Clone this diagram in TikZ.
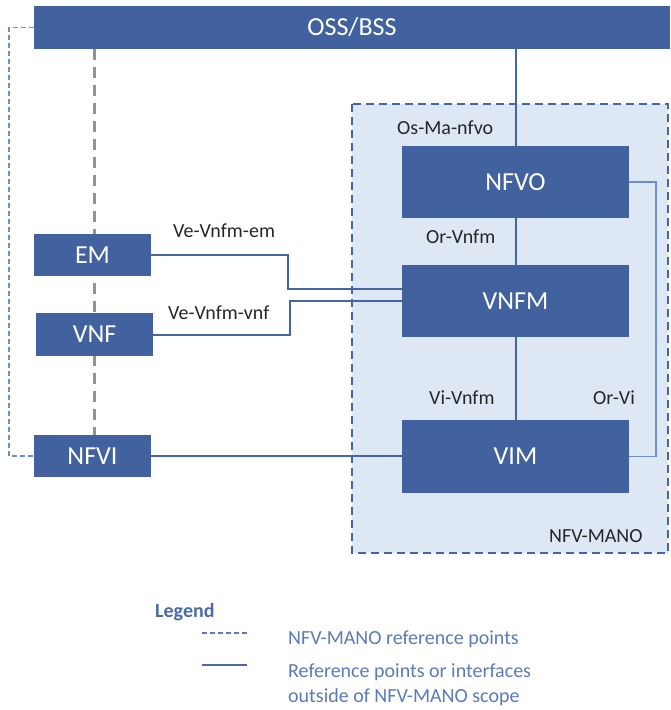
\documentclass[tikz,border=0pt]{standalone}
\usepackage{fontspec}
\setmainfont{Carlito}
\definecolor{boxblue}{HTML}{41629E}
\definecolor{lineblue}{HTML}{4466A4}
\definecolor{lightline}{HTML}{6A8FCB}
\definecolor{manofill}{HTML}{DEE8F4}
\definecolor{legendtext}{HTML}{5A7BB6}
\definecolor{legendhead}{HTML}{4A6BA8}
\definecolor{labelgray}{HTML}{262626}
\definecolor{dashgray}{HTML}{929292}
\begin{document}
\begin{tikzpicture}[x=1pt,y=-1pt,
  blockbox/.style={fill=boxblue, draw=none, text=white, inner sep=0pt,
    font=\fontsize{26}{30}\selectfont},
  iflabel/.style={anchor=west, inner sep=0pt, text=labelgray,
    font=\fontsize{20}{24}\selectfont},
  legtext/.style={anchor=west, inner sep=0pt, text=legendtext,
    font=\fontsize{20}{24}\selectfont},
  link/.style={draw=lineblue, line width=2pt},
  thinlink/.style={draw=lightline, line width=1.4pt},
  manoframe/.style={draw=lineblue, fill=manofill, line width=2pt,
    dash pattern=on 8pt off 5pt},
  greydash/.style={draw=dashgray, line width=3pt, dash pattern=on 11pt off 7pt},
  bluedash/.style={draw=lightline, line width=1.4pt, dash pattern=on 5pt off 3pt}]

\useasboundingbox (0,0) rectangle (670,710);

% NFV-MANO scope
\draw[manoframe] (352,104) rectangle (668,553);
\node[iflabel] (manolbl) at (549,536) {NFV-MANO};

% functional blocks
\node[blockbox, minimum width=636pt, minimum height=43pt] (oss) at (352,27.5) {OSS/BSS};
\node[blockbox, minimum width=227pt, minimum height=72pt] (nfvo) at (515.5,182) {NFVO};
\node[blockbox, minimum width=227pt, minimum height=72pt] (vnfm) at (515.5,301) {VNFM};
\node[blockbox, minimum width=227pt, minimum height=73pt] (vim) at (515.5,456.5) {VIM};

% grey dashed line behind EM and VNF
\coordinate (gtop) at (94,49);
\coordinate (gbot) at (94,435);
\draw[greydash] (gtop) -- (gbot);

\node[blockbox, minimum width=117pt, minimum height=42pt] (em) at (92.5,255) {EM};
\node[blockbox, minimum width=117pt, minimum height=43pt] (vnf) at (94.5,334.5) {VNF};
\node[blockbox, minimum width=117pt, minimum height=42pt] (nfvi) at (92.5,456) {NFVI};

% OSS/BSS to NFVI dashed loop
\coordinate (lt) at (9,27.5);
\coordinate (lb) at (9,456);
\draw[bluedash] (oss.west) -- (lt) -- (lb) -- (nfvi.west);

% reference points
\draw[link] (oss.south -| nfvo.north) -- (nfvo.north);
\draw[link] (nfvo) -- (vnfm);
\draw[link] (vnfm) -- (vim);
\draw[link] (nfvi.east) -- (nfvi.east -| vim.west);
\coordinate (emj) at (288,289);
\draw[link] (em.east) -| (emj) -- (emj -| vnfm.west);
\coordinate (vnfj) at (290,301);
\draw[link] (vnf.east) -| (vnfj) -- (vnfj -| vnfm.west);
\coordinate (orvi) at (656,182);
\draw[thinlink] (nfvo.east) -- (orvi) |- (vim.east);

% interface labels
\node[iflabel] (osma) at (397,128) {Os-Ma-nfvo};
\node[iflabel] (orvnfm) at (426,237) {Or-Vnfm};
\node[iflabel] (vivnfm) at (429,398) {Vi-Vnfm};
\node[iflabel] (orvilbl) at (593,398) {Or-Vi};
\node[iflabel] (veem) at (173,231) {Ve-Vnfm-em};
\node[iflabel] (vevnf) at (168,313) {Ve-Vnfm-vnf};

% legend
\node[anchor=west, inner sep=0pt, text=legendhead,
  font=\fontsize{20}{24}\selectfont\bfseries] (leghead) at (155,612) {Legend};
\coordinate (ld1) at (202,633);
\coordinate (ld2) at (247,633);
\draw[draw=legendtext, line width=1.6pt, dash pattern=on 5pt off 3pt] (ld1) -- (ld2);
\coordinate (ls1) at (202,665);
\coordinate (ls2) at (247,665);
\draw[draw=legendhead, line width=2.6pt] (ls1) -- (ls2);
\node[legtext] (leg1) at (288,639) {NFV-MANO reference points};
\node[legtext] (leg2) at (288,672) {Reference points or interfaces};
\node[legtext] (leg3) at (288,697) {outside of NFV-MANO scope};
\end{tikzpicture}
\end{document}
